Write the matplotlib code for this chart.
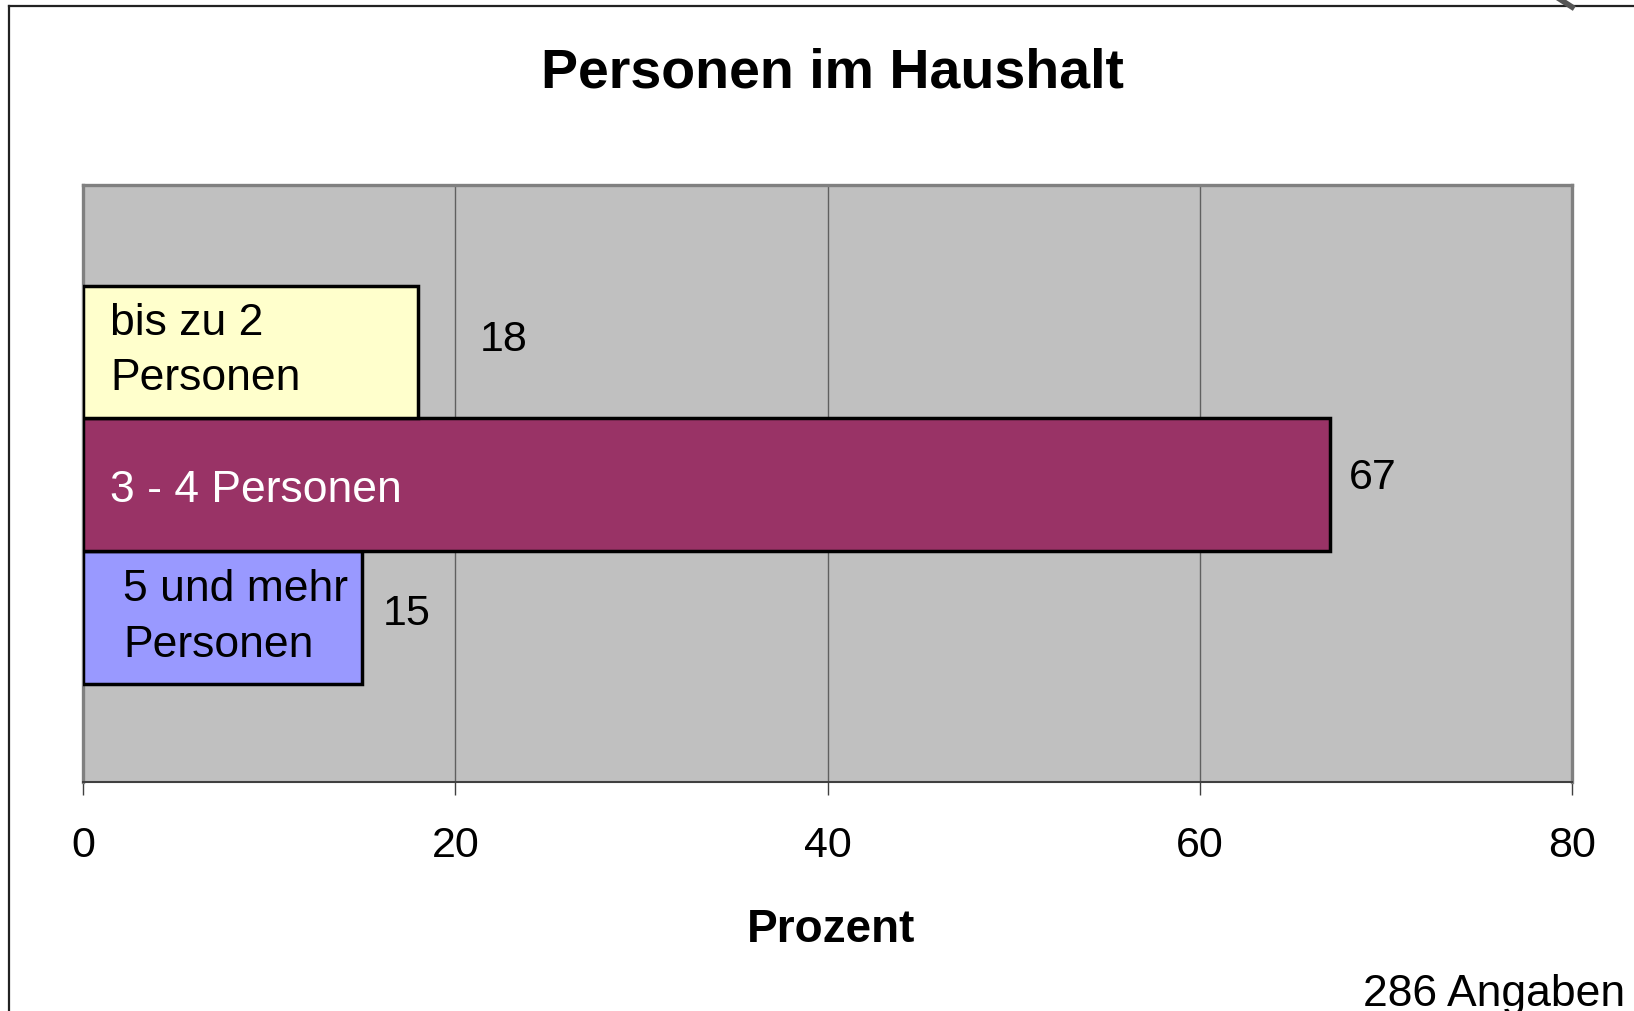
import matplotlib
matplotlib.use("Agg")
import matplotlib.pyplot as plt
from matplotlib.lines import Line2D

plt.rcParams['font.family'] = ['Liberation Sans', 'DejaVu Sans']

# Data
categories = ["5 und mehr\nPersonen", "3 - 4 Personen", "bis zu 2\nPersonen"]
values = [15, 67, 18]
colors = ["#9999FF", "#993366", "#FFFFCC"]
text_colors = ["black", "white", "black"]
xticks = [0, 20, 40, 60, 80]
title = "Personen im Haushalt"
xlabel = "Prozent"
note = "286 Angaben"

W, H = 1634, 1011
fig = plt.figure(figsize=(W / 100, H / 100), dpi=100)

def fx(px):
    return px / W

def fy(py):
    return 1 - py / H

ax = fig.add_axes([fx(83), fy(782), fx(1572) - fx(83), fy(185) - fy(782)])
ax.set_facecolor("#C0C0C0")

ypos = list(range(len(values)))
ax.barh(ypos, values, height=1.0, color=colors, edgecolor="black", linewidth=2.5, zorder=3)

ax.set_xlim(0, 80)
ax.set_ylim(-1.24, 3.26)
ax.set_xticks(xticks)
ax.set_xticklabels([str(t) for t in xticks], fontsize=31)
ax.set_yticks([])
ax.tick_params(axis="x", direction="out", length=9, width=1, color="#404040", pad=23)
ax.xaxis.grid(True, color="#606060", linewidth=1, zorder=1)
ax.set_axisbelow(True)

for side in ["top", "left", "right"]:
    ax.spines[side].set_color("#808080")
    ax.spines[side].set_linewidth(2.4)
ax.spines["bottom"].set_color("#404040")
ax.spines["bottom"].set_linewidth(1.5)

# value labels
label_offsets = [1.1, 1.0, 3.3]
label_dy = [0.03, 0.05, 0.09]
for i, v in enumerate(values):
    ax.text(v + label_offsets[i], i + label_dy[i], str(v), fontsize=31,
            va="center", ha="left", color="black", zorder=4)

# category labels inside bars
cat_x = [2.15, 1.45, 1.45]
cat_dy = [0.0, -0.04, 0.01]
for i, c in enumerate(categories):
    ax.text(cat_x[i], i + cat_dy[i], c, fontsize=32, va="center", ha="left",
            color=text_colors[i], linespacing=1.45, zorder=4)

fig.text(fx(832), fy(74), title, fontsize=40, fontweight="bold",
         ha="center", va="center")
fig.text(fx(831), fy(930), xlabel, fontsize=33, fontweight="bold",
         ha="center", va="center")
fig.text(fx(1625), fy(1006), note, fontsize=32, ha="right", va="baseline")

# outer frame (left and top edges visible)
fig.add_artist(Line2D([fx(9), fx(9)], [fy(6), fy(1015)], color="#222222", linewidth=1.6))
fig.add_artist(Line2D([fx(9), fx(1640)], [fy(6), fy(6)], color="#222222", linewidth=1.6))
fig.add_artist(Line2D([fx(1558), fx(1572)], [fy(-2), fy(7)], color="#555555", linewidth=4))

fig.savefig("out.png", dpi=100)
